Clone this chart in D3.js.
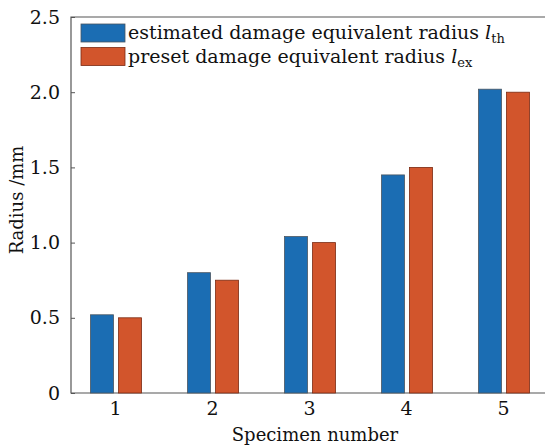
<!DOCTYPE html>
<html>
<head>
<meta charset="utf-8">
<script src="https://d3js.org/d3.v7.min.js"></script>
<style>
  body { margin: 0; background: #fff; }
  svg text { fill: #111; }
</style>
</head>
<body>
<div id="chart"></div>
<script>
var specimens = [1, 2, 3, 4, 5];
var estimated = [0.52, 0.80, 1.04, 1.45, 2.02];
var preset = [0.50, 0.75, 1.00, 1.50, 2.00];
var yTicks = [0, 0.5, 1.0, 1.5, 2.0, 2.5];
var seriesNames = ["estimated", "preset"];

var pal = {
  "blue": "#1b6db3",
  "orange": "#d2552c",
  "blueEdge": "#4a5560",
  "orangeEdge": "#7a2a12",
  "axis": "#555"
};
var serif = "DejaVu Serif";

var margin = {top: 17, right: 0, bottom: 53, left: 71};
var width = 545 - margin.left - margin.right,
    height = 446 - margin.top - margin.bottom;

var svg = d3.select("#chart")
  .append("svg")
    .attr("width", 545)
    .attr("height", 446)
    .attr("font-family", serif)
  .append("g")
    .attr("transform", "translate(" + margin.left + "," + margin.top + ")");

var x = d3.scaleLinear()
  .domain([0.546, 5.433])
  .range([0, width]);

var x1 = d3.scaleBand()
  .domain(seriesNames)
  .range([-24.5, 26.5])
  .paddingInner(0.18);

var y = d3.scaleLinear()
  .domain([0, 2.5])
  .range([height, 0]);

// frame (top, left, bottom)
svg.append("path")
  .attr("d", "M" + width + ",0H0V" + height + "H" + width)
  .attr("fill", "none")
  .attr("stroke", pal.axis)
  .attr("stroke-width", 1.2);

// y axis, ticks pointing inward
var yAxis = svg.append("g")
  .call(d3.axisLeft(y).tickValues(yTicks).tickSizeInner(-4).tickSizeOuter(0).tickPadding(11)
    .tickFormat(function(d) { return d === 0 ? "0" : d3.format(".1f")(d); }));
yAxis.attr("font-family", serif);
yAxis.select(".domain").remove();
yAxis.selectAll("line").attr("stroke", pal.axis);
yAxis.selectAll("text")
  .style("font-size", "19px")
  .attr("fill", "#111");

// x axis labels
var xAxis = svg.append("g")
  .attr("transform", "translate(0," + height + ")")
  .call(d3.axisBottom(x).tickValues(specimens).tickSize(0).tickPadding(9).tickFormat(d3.format("d")));
xAxis.attr("font-family", serif);
xAxis.select(".domain").remove();
xAxis.selectAll("text")
  .style("font-size", "19px")
  .attr("fill", "#111");

// bars
var rows = specimens.map(function(s, i) {
  return {spec: s, estimated: estimated[i], preset: preset[i]};
});

var groups = svg.selectAll(".grp")
  .data(rows)
  .enter().append("g")
    .attr("class", "grp")
    .attr("transform", function(d) { return "translate(" + x(d.spec) + ",0)"; });

groups.selectAll("rect")
  .data(function(d) { return seriesNames.map(function(k) { return {key: k, value: d[k]}; }); })
  .enter().append("rect")
    .attr("x", function(d) { return x1(d.key); })
    .attr("width", x1.bandwidth())
    .attr("y", function(d) { return y(d.value); })
    .attr("height", function(d) { return y(0) - y(d.value); })
    .attr("fill", function(d) { return d.key === "estimated" ? pal.blue : pal.orange; })
    .attr("stroke", function(d) { return d.key === "estimated" ? pal.blueEdge : pal.orangeEdge; })
    .attr("stroke-width", 0.8);

// axis titles
svg.append("text")
  .attr("x", 315 - margin.left)
  .attr("y", 441 - margin.top)
  .attr("text-anchor", "middle")
  .style("font-size", "18px")
  .text("Specimen number");

svg.append("text")
  .attr("transform", "translate(" + (23 - margin.left) + "," + (200 - margin.top) + ") rotate(-90)")
  .attr("text-anchor", "middle")
  .style("font-size", "18px")
  .text("Radius /mm");

// legend
var legend = [
  {name: "estimated damage equivalent radius ", sub: "th", color: pal.blue, edge: pal.blueEdge},
  {name: "preset damage equivalent radius ", sub: "ex", color: pal.orange, edge: pal.orangeEdge}
];

var lg = svg.selectAll(".lg")
  .data(legend)
  .enter().append("g")
    .attr("class", "lg")
    .attr("transform", function(d, i) { return "translate(10," + (7 + i * 23.5) + ")"; });

lg.append("rect")
  .attr("width", 44)
  .attr("height", 18)
  .attr("fill", function(d) { return d.color; })
  .attr("stroke", function(d) { return d.edge; })
  .attr("stroke-width", 0.8);

var lt = lg.append("text")
  .attr("x", 47)
  .attr("y", 15)
  .style("font-size", "19px");
lt.append("tspan").text(function(d) { return d.name; });
lt.append("tspan").style("font-style", "italic").text("l");
lt.append("tspan").attr("dy", 4).style("font-size", "13px").text(function(d) { return d.sub; });
</script>
</body>
</html>
